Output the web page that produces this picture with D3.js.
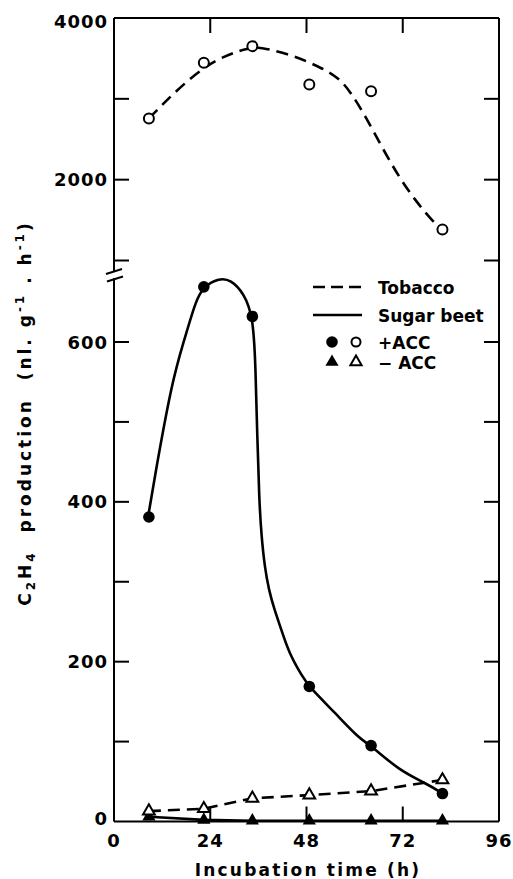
<!DOCTYPE html>
<html>
<head>
<meta charset="utf-8">
<script src="https://cdn.jsdelivr.net/npm/d3@7"></script>
<style>
  html, body { margin: 0; padding: 0; background: #fff; }
  text { font-family: "DejaVu Sans", sans-serif; font-weight: bold; fill: #000; }
</style>
</head>
<body>
<script>
// ---- data ----
const times = [8.7, 22.4, 34.5, 48.7, 64.1, 81.9];
const tobaccoPlusACC = [2758, 3445, 3652, 3176, 3093, 1383];
const beetPlusACC = [381, 669, 632, 169, 95, 35];
const tobaccoMinusACC = [13, 16, 29, 33, 38, 52];
const beetMinusACC = [6, 2, 1, 1, 1, 1];

// hand-drawn fitted curves
const tobaccoCurveT = [8.7, 22.4, 34.2, 37.8, 44.5, 51.1, 56.1, 59.3, 62.8, 66.8, 71.1, 75.2, 79.3, 81.9];
const tobaccoCurveV = [2758, 3445, 3652, 3624, 3540, 3400, 3262, 3062, 2774, 2402, 2029, 1740, 1491, 1383];
const beetCurveT = [8.5, 10.0, 14.5, 17.5, 20.4, 22.3, 26.2, 29.1, 32.4, 34.7, 35.3, 35.7, 36.2, 36.8, 37.6, 38.6, 40.0, 41.6, 43.6, 47.0, 48.6, 55.3, 61.1, 64.1, 71.1, 77.7, 82.0];
const beetCurveV = [381, 427, 552, 602, 652, 669, 680, 678, 661, 632, 569, 486, 402, 355, 318, 290, 265, 242, 211, 181, 169, 135, 104, 95, 64, 48, 35];

const xTicks = [0, 24, 48, 72, 96];
const yHighTicks = [1000, 2000, 3000, 4000];
const yHighLabels = [2000, 4000];
const yLowTicks = [0, 100, 200, 300, 400, 500, 600];
const yLowLabels = [0, 200, 400, 600];
const legendLabels = ["Tobacco", "Sugar beet", "+ACC", "\u2212 ACC"];

// ---- layout ----
const W = 513, H = 879;
const L = 114, R = 499, T = 18, B = 821.5;
const x = d3.scaleLinear().domain([0, 96]).range([L, R]);
const yLow = d3.scaleLinear().domain([0, 600]).range([B, 342]);
const yHigh = d3.scaleLinear().domain([1000, 4000]).range([260.5, T]);

const svg = d3.select("body").append("svg").attr("width", W).attr("height", H);

const frame = svg.append("g").attr("stroke", "#000").attr("stroke-width", 2).attr("fill", "none");
frame.append("line").attr("x1", L).attr("x2", R).attr("y1", T).attr("y2", T);
frame.append("line").attr("x1", R).attr("x2", R).attr("y1", T).attr("y2", B);
frame.append("line").attr("x1", L).attr("x2", R).attr("y1", B).attr("y2", B);
frame.append("line").attr("x1", L).attr("x2", L).attr("y1", T).attr("y2", 272);
frame.append("line").attr("x1", L).attr("x2", L).attr("y1", 278).attr("y2", B);
// axis break marks
frame.append("line").attr("x1", L - 8).attr("x2", L + 8).attr("y1", 274).attr("y2", 269);
frame.append("line").attr("x1", L - 7).attr("x2", L + 9).attr("y1", 281.5).attr("y2", 276.5);

const TL = 15;
const inner = xTicks.filter(d => d > 0 && d < 96);
inner.forEach(d => {
  frame.append("line").attr("x1", x(d)).attr("x2", x(d)).attr("y1", B).attr("y2", B - TL);
  frame.append("line").attr("x1", x(d)).attr("x2", x(d)).attr("y1", T).attr("y2", T + TL);
});
const yTickPos = yHighTicks.filter(d => d < 4000).map(d => yHigh(d))
  .concat(yLowTicks.filter(d => d > 0).map(d => yLow(d)));
yTickPos.forEach(p => {
  frame.append("line").attr("x1", L).attr("x2", L + TL).attr("y1", p).attr("y2", p);
  frame.append("line").attr("x1", R).attr("x2", R - TL).attr("y1", p).attr("y2", p);
});

// tick labels
const lab = svg.append("g").attr("font-size", 18).attr("letter-spacing", 1);
yHighLabels.forEach(d => lab.append("text").attr("x", L - 6).attr("y", yHigh(d) + 6.5 + (d === 4000 ? 3 : 0))
  .attr("text-anchor", "end").text(d));
yLowLabels.forEach(d => lab.append("text").attr("x", L - 6).attr("y", yLow(d) + 6.5 - (d === 0 ? 3 : 0))
  .attr("text-anchor", "end").text(d));
xTicks.forEach(d => lab.append("text").attr("x", x(d)).attr("y", 847).attr("text-anchor", "middle").text(d));

// axis titles
svg.append("text").attr("x", 308).attr("y", 876).attr("text-anchor", "middle")
  .attr("font-size", 17).attr("letter-spacing", 2.2).text("Incubation time (h)");

const yt = svg.append("text").attr("transform", "translate(31,413) rotate(-90)")
  .attr("text-anchor", "middle").attr("font-size", 17).attr("letter-spacing", 3);
yt.append("tspan").text("C");
yt.append("tspan").attr("font-size", 12).attr("dy", 4).text("2");
yt.append("tspan").attr("dy", -4).text("H");
yt.append("tspan").attr("font-size", 12).attr("dy", 4).text("4");
yt.append("tspan").attr("dy", -4).text("\u00a0\u00a0production\u00a0\u00a0(nl. g");
yt.append("tspan").attr("font-size", 12).attr("dy", -7).text("-1");
yt.append("tspan").attr("dy", 7).text(" . h");
yt.append("tspan").attr("font-size", 12).attr("dy", -7).text("-1");
yt.append("tspan").attr("dy", 7).text(")");

// ---- lines ----
const lineHigh = d3.line().x(d => x(d[0])).y(d => yHigh(d[1])).curve(d3.curveBasis);
const lineLow = d3.line().x(d => x(d[0])).y(d => yLow(d[1])).curve(d3.curveBasis);
const lineLowLin = d3.line().x(d => x(d[0])).y(d => yLow(d[1]));

const lines = svg.append("g").attr("fill", "none").attr("stroke", "#000").attr("stroke-width", 2.6);
lines.append("path").attr("d", lineHigh(d3.zip(tobaccoCurveT, tobaccoCurveV))).attr("stroke-dasharray", "12,7");
lines.append("path").attr("d", lineLow(d3.zip(beetCurveT, beetCurveV)));
lines.append("path").attr("d", lineLowLin(d3.zip(times, tobaccoMinusACC))).attr("stroke-dasharray", "12,7");
lines.append("path").attr("d", lineLowLin(d3.zip(times, beetMinusACC)));

// ---- markers ----
const tri = d3.symbol().type(d3.symbolTriangle);
const mk = svg.append("g");
times.forEach((t, i) => {
  mk.append("path").attr("d", tri.size(75)()).attr("transform", `translate(${x(t)},${yLow(beetMinusACC[i])})`)
    .attr("fill", "#000");
  mk.append("path").attr("d", tri.size(60)()).attr("transform", `translate(${x(t)},${yLow(tobaccoMinusACC[i])})`)
    .attr("fill", "#fff").attr("stroke", "#000").attr("stroke-width", 2);
  mk.append("circle").attr("cx", x(t)).attr("cy", yLow(beetPlusACC[i])).attr("r", 5.8).attr("fill", "#000");
  mk.append("circle").attr("cx", x(t)).attr("cy", yHigh(tobaccoPlusACC[i])).attr("r", 5).attr("fill", "#fff")
    .attr("stroke", "#000").attr("stroke-width", 2);
});

// ---- legend ----
const lg = svg.append("g");
const rowY = [287, 315, 342, 362];
lg.append("line").attr("x1", 313).attr("x2", 362).attr("y1", rowY[0]).attr("y2", rowY[0])
  .attr("stroke", "#000").attr("stroke-width", 2.6).attr("stroke-dasharray", "12,6");
lg.append("line").attr("x1", 313).attr("x2", 362).attr("y1", rowY[1]).attr("y2", rowY[1])
  .attr("stroke", "#000").attr("stroke-width", 2.6);
lg.append("circle").attr("cx", 332).attr("cy", rowY[2]).attr("r", 5.8).attr("fill", "#000");
lg.append("circle").attr("cx", 356).attr("cy", rowY[2]).attr("r", 4.5).attr("fill", "#fff")
  .attr("stroke", "#000").attr("stroke-width", 2);
lg.append("path").attr("d", tri.size(75)()).attr("transform", `translate(332,${rowY[3]})`).attr("fill", "#000");
lg.append("path").attr("d", tri.size(55)()).attr("transform", `translate(356,${rowY[3]})`)
  .attr("fill", "#fff").attr("stroke", "#000").attr("stroke-width", 2);
legendLabels.forEach((s, i) => lg.append("text").attr("x", 378).attr("y", rowY[i] + 6.5)
  .attr("font-size", 17).text(s));
</script>
</body>
</html>
